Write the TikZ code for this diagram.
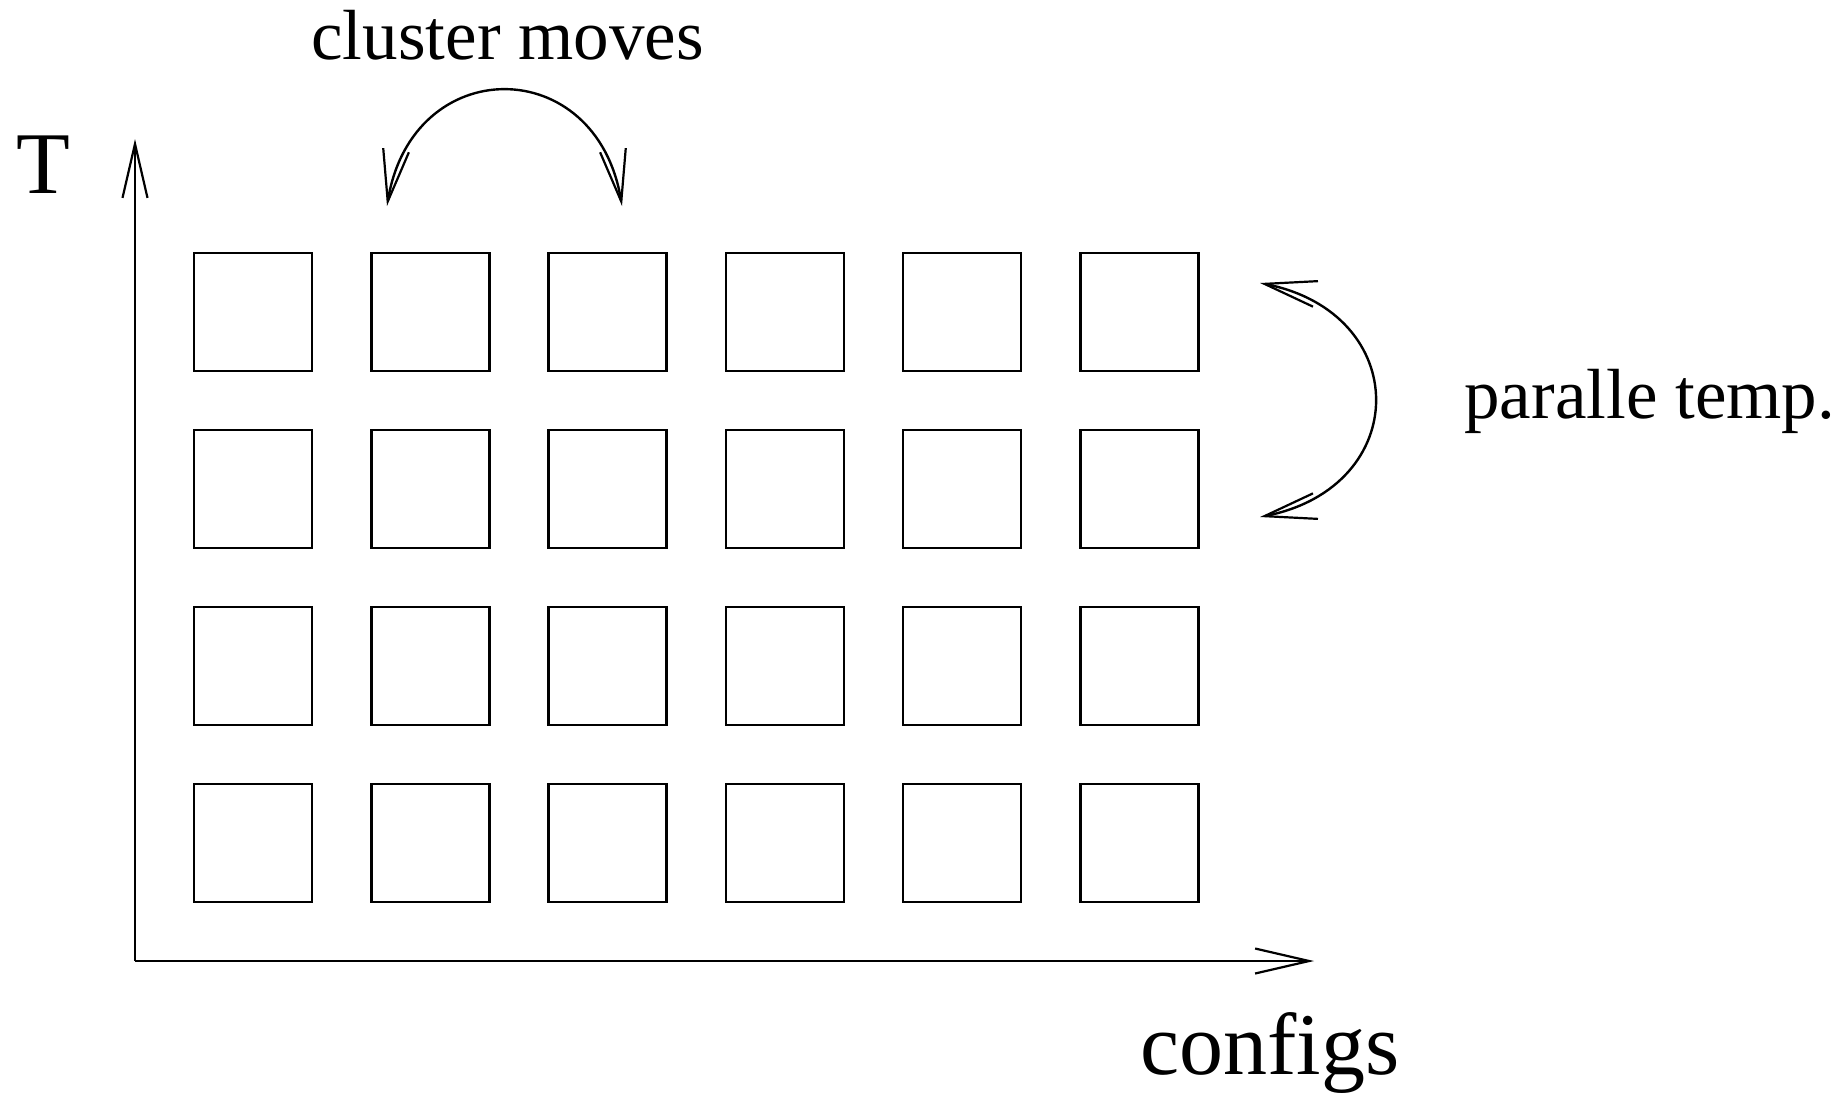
\documentclass[tikz,border=0pt]{standalone}
\usepackage{fontspec}
\setmainfont{Liberation Serif}
\usetikzlibrary{arrows.meta,bending}
\begin{document}
\begin{tikzpicture}[x=0.5pt,y=-0.5pt,
  box/.style={draw,line width=1.2pt,minimum size=59pt,inner sep=0pt,outer sep=0pt},
  ln/.style={line width=1.2pt},
  tipv/.style={-{Straight Barb[length=27pt,width=12.5pt,line width=1.1pt]}},
  tipvv/.style={{Straight Barb[length=26pt,width=13pt,line width=1.1pt,quick]}-{Straight Barb[length=26pt,width=13pt,line width=1.1pt,quick]}},
  small/.style={font=\fontsize{35.5}{40}\selectfont},
  big/.style={font=\fontsize{44}{50}\selectfont}]
\useasboundingbox (0,0) rectangle (1843,1094);
\foreach \r in {0,...,3}{
  \foreach \c in {0,...,5}{
    \node[box] (b-\r-\c) at ({253+177.3*\c},{311.7+177*\r}) {};
  }
}
\coordinate (O) at (135,961);
\coordinate (Ytop) at (135,139);
\coordinate (Xend) at (1314,961);
\draw[ln,tipv] (O) -- (Ytop);
\draw[ln,tipv] (O) -- (Xend);
\coordinate (cl) at (387,206);
\coordinate (cr) at (622,206);
\draw[ln,tipvv] (cl) .. controls (412,52) and (597,52) .. (cr);
\coordinate (pt) at (1260,283);
\coordinate (pb) at (1260,517);
\draw[ln,tipvv] (pt) .. controls (1413,313) and (1413,487) .. (pb);
\node[small,anchor=base west,inner sep=0pt] (lcm) at (311,59) {cluster moves};
\node[small,anchor=base west,inner sep=0pt] (lpt) at (1464,418) {paralle temp.};
\node[big,anchor=base,inner sep=0pt] (lT) at (43.5,193) {T};
\node[big,anchor=base west,inner sep=0pt] (lcf) at (1140,1074) {configs};
\end{tikzpicture}
\end{document}
